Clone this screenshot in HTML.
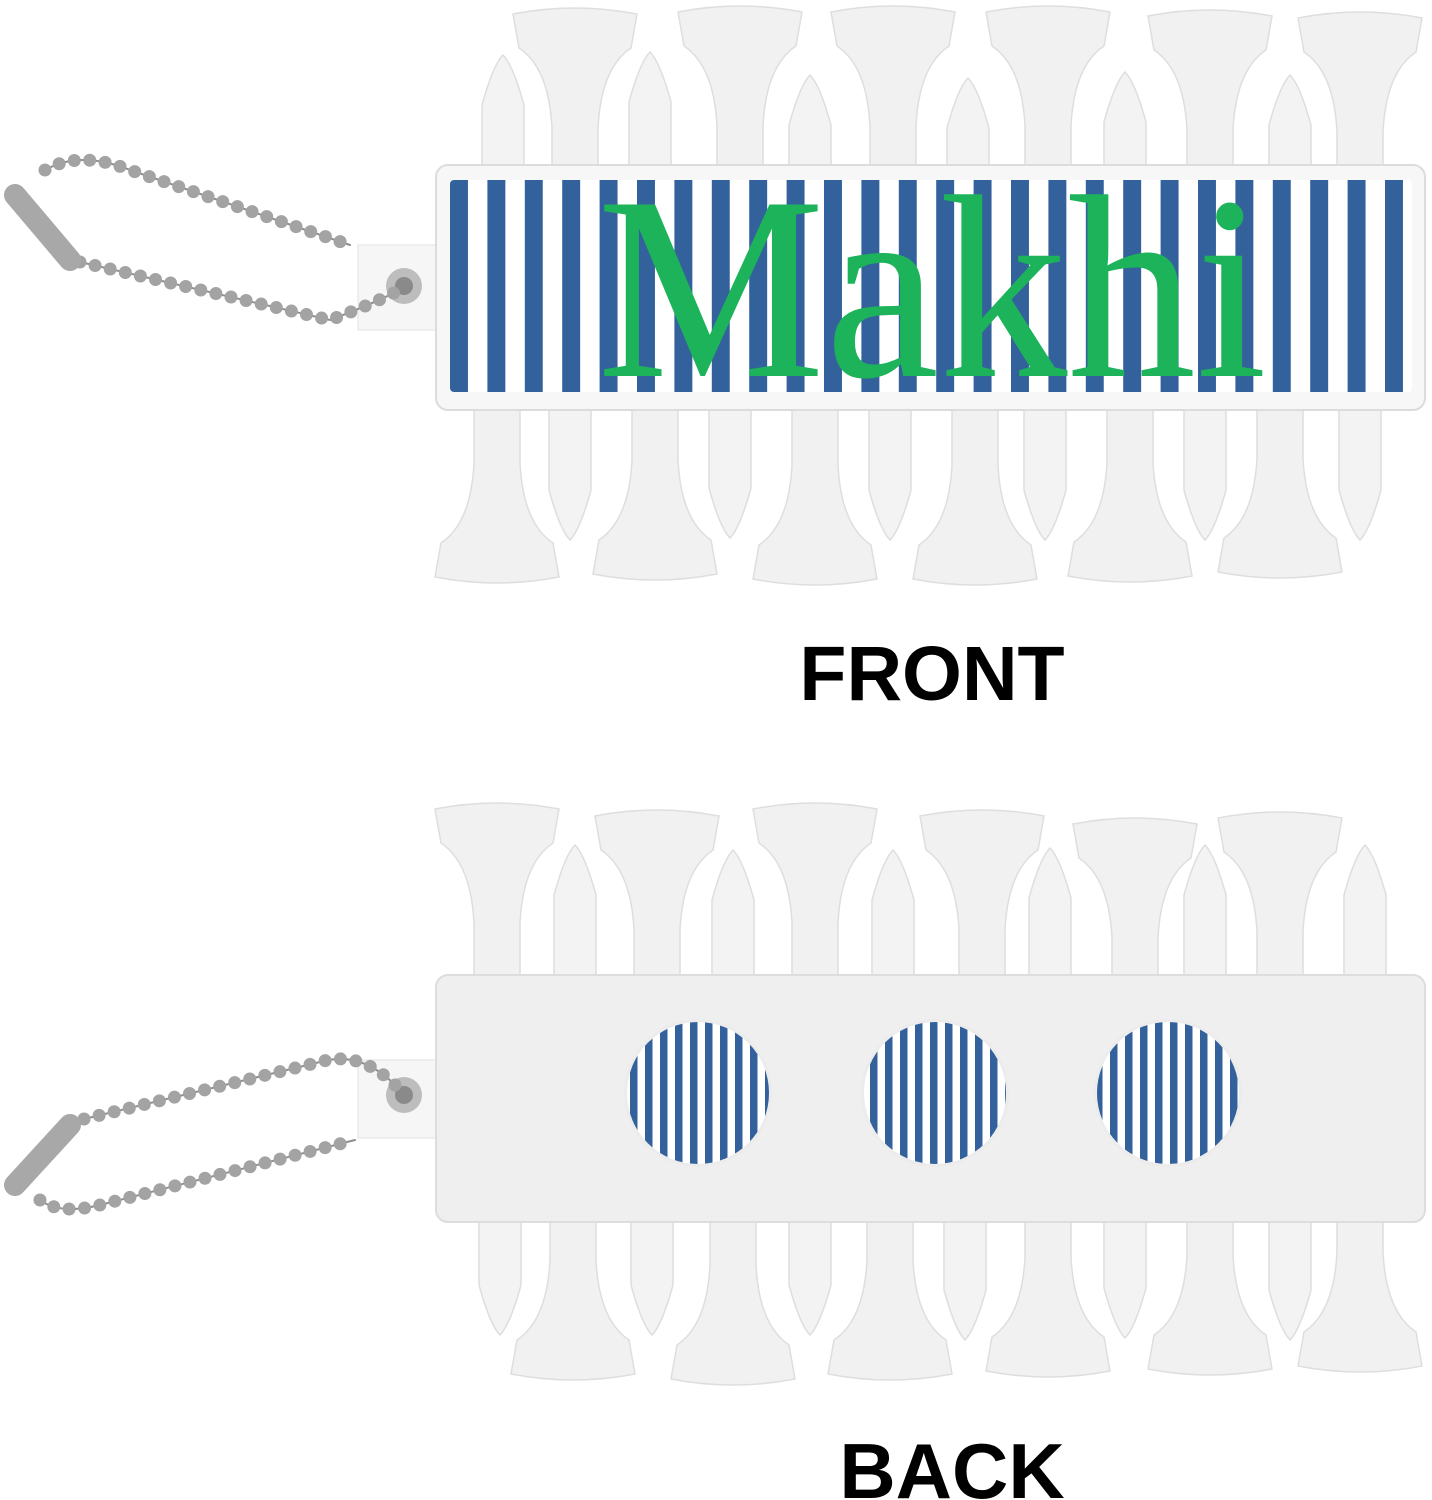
<!DOCTYPE html>
<html><head><meta charset="utf-8"><style>
html,body{margin:0;padding:0;background:#fff;}
svg{display:block;}
</style></head><body>
<svg width="1432" height="1500" viewBox="0 0 1432 1500" xmlns="http://www.w3.org/2000/svg">
<defs>
<path id="cup" d="M-62,6 Q0,-6 62,6 L56,40 Q26,60 23,120 L23,300 L-23,300 L-23,120 Q-26,60 -56,40 Z" fill="#f1f1f1" stroke="#dedede" stroke-width="1.5"/>
<path id="peg" d="M0,0 Q10,10 21,50 L21,300 L-21,300 L-21,50 Q-10,10 0,0 Z" fill="#f3f3f3" stroke="#dedede" stroke-width="1.5"/>
<pattern id="st" x="450" y="0" width="37.4" height="10" patternUnits="userSpaceOnUse">
<rect x="0" y="0" width="18" height="10" fill="#33619c"/><rect x="18" y="0" width="19.4" height="10" fill="#fff"/>
</pattern>
<pattern id="st2" x="0" y="0" width="15" height="10" patternUnits="userSpaceOnUse">
<rect x="0" y="0" width="7.5" height="10" fill="#33619c"/><rect x="7.5" y="0" width="7.5" height="10" fill="#fff"/>
</pattern>
</defs>

<g>
<use href="#cup" transform="translate(575,8)"/><use href="#cup" transform="translate(740,6)"/><use href="#cup" transform="translate(893,6)"/><use href="#cup" transform="translate(1048,6)"/><use href="#cup" transform="translate(1210,10)"/><use href="#cup" transform="translate(1360,12)"/>
<use href="#peg" transform="translate(503,55)"/><use href="#peg" transform="translate(650,52)"/><use href="#peg" transform="translate(810,75)"/><use href="#peg" transform="translate(968,78)"/><use href="#peg" transform="translate(1125,72)"/><use href="#peg" transform="translate(1290,75)"/>
</g>
<g>
<use href="#cup" transform="translate(497,583) scale(1,-1)"/><use href="#cup" transform="translate(655,580) scale(1,-1)"/><use href="#cup" transform="translate(815,585) scale(1,-1)"/><use href="#cup" transform="translate(975,585) scale(1,-1)"/><use href="#cup" transform="translate(1130,582) scale(1,-1)"/><use href="#cup" transform="translate(1280,578) scale(1,-1)"/>
<use href="#peg" transform="translate(570,540) scale(1,-1)"/><use href="#peg" transform="translate(730,538) scale(1,-1)"/><use href="#peg" transform="translate(890,540) scale(1,-1)"/><use href="#peg" transform="translate(1045,540) scale(1,-1)"/><use href="#peg" transform="translate(1205,540) scale(1,-1)"/><use href="#peg" transform="translate(1360,540) scale(1,-1)"/>
</g>
<rect x="358" y="245" width="80" height="85" fill="#f6f6f6" stroke="#e2e2e2"/>
<circle cx="404" cy="286" r="18" fill="#bdbdbd"/><circle cx="404" cy="286" r="9" fill="#8a8a8a"/>
<rect x="436" y="165" width="989" height="245" rx="12" fill="#f7f7f7" stroke="#dcdcdc" stroke-width="2"/>
<rect x="450" y="180" width="962" height="212" rx="4" fill="url(#st)"/>
<text x="932" y="376" text-anchor="middle" font-family="'Liberation Serif',serif" font-size="262" fill="#1db35a" transform="translate(932,0) scale(0.98,1) translate(-932,0)">Makhi</text>
<g fill="none" stroke-linecap="round">
<path d="M45,170 Q80,150 130,170 L350,245 M80,262 L330,320 Q370,305 400,290" stroke="#8e8e8e" stroke-width="2"/>
<path d="M45,170 Q80,150 130,170 L350,245 M80,262 L330,320 Q370,305 400,290" stroke="#a3a3a3" stroke-width="13" stroke-dasharray="0 15.5"/>
<path d="M15,195 L70,260" stroke="#a8a8a8" stroke-width="22"/>
</g>
<text x="932" y="700" text-anchor="middle" font-family="'Liberation Sans',sans-serif" font-weight="bold" font-size="77" fill="#000">FRONT</text>

<g>
<use href="#cup" transform="translate(497,803)"/><use href="#cup" transform="translate(657,810)"/><use href="#cup" transform="translate(815,803)"/><use href="#cup" transform="translate(982,810)"/><use href="#cup" transform="translate(1135,818)"/><use href="#cup" transform="translate(1280,812)"/>
<use href="#peg" transform="translate(575,845)"/><use href="#peg" transform="translate(733,850)"/><use href="#peg" transform="translate(893,850)"/><use href="#peg" transform="translate(1050,848)"/><use href="#peg" transform="translate(1205,845)"/><use href="#peg" transform="translate(1365,845)"/>
</g>
<g>
<use href="#peg" transform="translate(500,1335) scale(1,-1)"/><use href="#peg" transform="translate(652,1335) scale(1,-1)"/><use href="#peg" transform="translate(810,1335) scale(1,-1)"/><use href="#peg" transform="translate(965,1340) scale(1,-1)"/><use href="#peg" transform="translate(1125,1338) scale(1,-1)"/><use href="#peg" transform="translate(1290,1340) scale(1,-1)"/>
<use href="#cup" transform="translate(573,1380) scale(1,-1)"/><use href="#cup" transform="translate(733,1385) scale(1,-1)"/><use href="#cup" transform="translate(890,1380) scale(1,-1)"/><use href="#cup" transform="translate(1048,1377) scale(1,-1)"/><use href="#cup" transform="translate(1210,1375) scale(1,-1)"/><use href="#cup" transform="translate(1360,1372) scale(1,-1)"/>
</g>
<rect x="358" y="1060" width="80" height="78" fill="#f6f6f6" stroke="#e2e2e2"/>
<circle cx="404" cy="1095" r="18" fill="#bdbdbd"/><circle cx="404" cy="1095" r="9" fill="#8a8a8a"/>
<rect x="436" y="975" width="989" height="247" rx="12" fill="#efefef" stroke="#dddddd" stroke-width="2"/>
<circle cx="698" cy="1093" r="74" fill="#ececec"/>
<circle cx="935" cy="1093" r="74" fill="#ececec"/>
<circle cx="1168" cy="1093" r="74" fill="#ececec"/>
<circle cx="698" cy="1093" r="71" fill="url(#st2)"/>
<circle cx="935" cy="1093" r="71" fill="url(#st2)"/>
<circle cx="1168" cy="1093" r="71" fill="url(#st2)"/>
<g fill="none" stroke-linecap="round">
<path d="M395,1085 Q360,1050 320,1062 L80,1120 M40,1200 Q60,1215 100,1205 L355,1140" stroke="#8e8e8e" stroke-width="2"/>
<path d="M395,1085 Q360,1050 320,1062 L80,1120 M40,1200 Q60,1215 100,1205 L355,1140" stroke="#a3a3a3" stroke-width="13" stroke-dasharray="0 15.5"/>
<path d="M15,1185 L70,1125" stroke="#a8a8a8" stroke-width="22"/>
</g>
<text x="952" y="1498" text-anchor="middle" font-family="'Liberation Sans',sans-serif" font-weight="bold" font-size="78" fill="#000">BACK</text>
</svg>
</body></html>
